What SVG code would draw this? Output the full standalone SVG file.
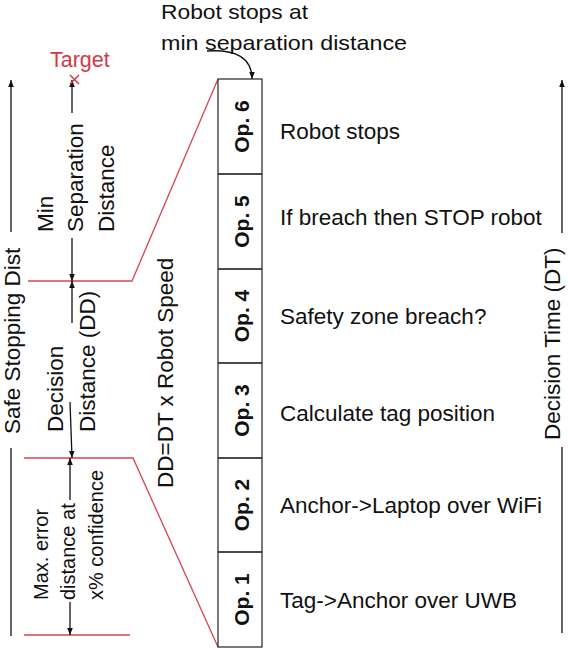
<svg xmlns="http://www.w3.org/2000/svg" width="568" height="650" viewBox="0 0 568 650">
<style>
text{font-family:"Liberation Sans",Arial,sans-serif;fill:#111}
.t{font-size:22.5px}
.n{font-size:21px}
.s{font-size:20px}
.op{font-size:21px;font-weight:bold;text-anchor:middle}
.red{fill:#d23a45}
.ln{stroke:#111;stroke-width:1.3;fill:none}
.rl{stroke:#d9434e;stroke-width:1.3;fill:none}
.box{stroke:#333;stroke-width:1.3;fill:#fff}
</style>
<defs>
<marker id="ah" viewBox="0 0 10 10" refX="10" refY="5" markerWidth="7" markerHeight="7" orient="auto-start-reverse" markerUnits="userSpaceOnUse">
<path d="M0,1 L10,5 L0,9 z" fill="#111"/>
</marker>
</defs>
<rect width="568" height="650" fill="#fff"/>

<g id="connectors">
<path class="rl" d="M28,281 H132 L218,79"/>
<path class="rl" d="M24,458 H133 L218,647"/>
<path class="rl" d="M24,635 H130"/>
<path class="ln" d="M11,232 V80" marker-end="url(#ah)"/>
<path class="ln" d="M11,636 V448"/>
<path class="ln" d="M562,233 V80" marker-end="url(#ah)"/>
<path class="ln" d="M562,633 V447"/>
<path class="ln" d="M72,113 V80" marker-end="url(#ah)"/>
<path class="ln" d="M72,238 V281" marker-end="url(#ah)"/>
<path class="ln" d="M72,323 V281" marker-end="url(#ah)"/>
<path class="ln" d="M70,402 L72,458" marker-end="url(#ah)"/>
<path class="ln" d="M70,500 V458" marker-end="url(#ah)"/>
<path class="ln" d="M70,602 V635" marker-end="url(#ah)"/>
<path class="ln" d="M207,51 C236,49 252,58 252,79" marker-end="url(#ah)"/>
</g>

<g id="target">
<text class="red" x="50" y="67" style="font-size:21.5px">Target</text>
<path d="M70,75 L79,84 M79,75 L70,84" stroke="#d23a45" stroke-width="1.5"/>
</g>

<g id="safe-stopping-dist">
<text class="t" transform="translate(20,434) rotate(-90)">Safe Stopping Dist</text>
</g>

<g id="min-separation">
<text class="t" transform="translate(53,232) rotate(-90)">Min</text>
<text class="t" transform="translate(83,232) rotate(-90)">Separation</text>
<text class="t" transform="translate(114,232) rotate(-90)">Distance</text>
</g>

<g id="decision-distance">
<text class="t" transform="translate(63,432) rotate(-90)">Decision</text>
<text class="t" transform="translate(95,432) rotate(-90)">Distance (DD)</text>
</g>

<g id="max-error">
<text class="s" transform="translate(48,600) rotate(-90)">Max. error</text>
<text class="s" transform="translate(75,600) rotate(-90)">distance at</text>
<text class="s" transform="translate(103,600) rotate(-90)">x% confidence</text>
</g>

<g id="dd-formula">
<text class="t" transform="translate(173,488) rotate(-90)">DD=DT x Robot Speed</text>
</g>

<g id="robot-stops-note">
<text class="n" x="161" y="19" textLength="147" lengthAdjust="spacingAndGlyphs">Robot stops at</text>
<text class="n" x="161" y="50" textLength="246" lengthAdjust="spacingAndGlyphs">min separation distance</text>
</g>

<g id="op-stack">
<rect class="box" x="218" y="79" width="44" height="568"/>
<path class="ln" d="M218,174 H262 M218,269 H262 M218,363 H262 M218,458 H262 M218,552 H262" stroke="#333"/>
<text class="op" transform="translate(249,126.5) rotate(-90)">Op. 6</text>
<text class="op" transform="translate(249,221.5) rotate(-90)">Op. 5</text>
<text class="op" transform="translate(249,316) rotate(-90)">Op. 4</text>
<text class="op" transform="translate(249,410.5) rotate(-90)">Op. 3</text>
<text class="op" transform="translate(249,505) rotate(-90)">Op. 2</text>
<text class="op" transform="translate(249,599.5) rotate(-90)">Op. 1</text>
</g>

<g id="op-descriptions">
<text class="t" x="280" y="139">Robot stops</text>
<text class="t" x="280" y="225">If breach then STOP robot</text>
<text class="t" x="280" y="324">Safety zone breach?</text>
<text class="t" x="280" y="421">Calculate tag position</text>
<text class="t" x="280" y="513">Anchor-&gt;Laptop over WiFi</text>
<text class="t" x="280" y="608">Tag-&gt;Anchor over UWB</text>
</g>

<g id="decision-time">
<text class="t" transform="translate(560,440) rotate(-90)">Decision Time (DT)</text>
</g>
</svg>
